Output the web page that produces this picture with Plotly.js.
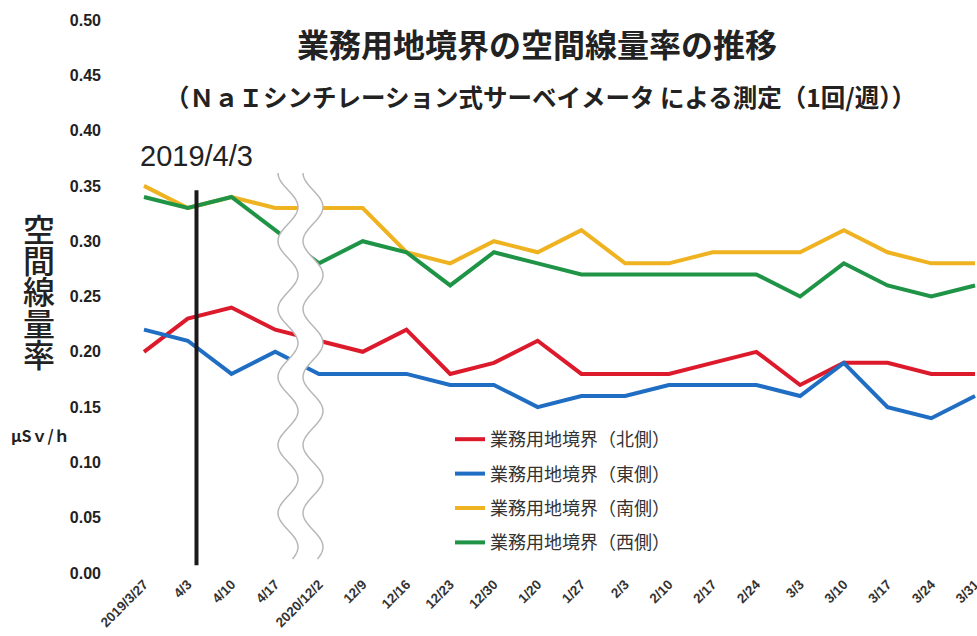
<!DOCTYPE html>
<html>
<head>
<meta charset="utf-8">
<script src="https://cdn.plot.ly/plotly-3.0.1.min.js"></script>
<style>html,body{margin:0;padding:0;background:#fff;}#chart{width:977px;height:636px;}</style>
</head>
<body>
<div id="chart"></div>
<script>
// ---- data ----
const categories = ['2019/3/27','4/3','4/10','4/17','2020/12/2','12/9','12/16','12/23','12/30','1/20','1/27','2/3','2/10','2/17','2/24','3/3','3/10','3/17','3/24','3/31'];
const northValues = [0.20,0.23,0.24,0.22,0.21,0.20,0.22,0.18,0.19,0.21,0.18,0.18,0.18,0.19,0.20,0.17,0.19,0.19,0.18,0.18];
const eastValues  = [0.22,0.21,0.18,0.20,0.18,0.18,0.18,0.17,0.17,0.15,0.16,0.16,0.17,0.17,0.17,0.16,0.19,0.15,0.14,0.16];
const southValues = [0.35,0.33,0.34,0.33,0.33,0.33,0.29,0.28,0.30,0.29,0.31,0.28,0.28,0.29,0.29,0.29,0.31,0.29,0.28,0.28];
const westValues  = [0.34,0.33,0.34,0.31,0.28,0.30,0.29,0.26,0.29,0.28,0.27,0.27,0.27,0.27,0.27,0.25,0.28,0.26,0.25,0.26];
const seriesNames = ['業務用地境界（北側）','業務用地境界（東側）','業務用地境界（南側）','業務用地境界（西側）'];
const seriesColors = ['#dc1a2b','#1f6ec4','#efb322','#1f9447'];
const yTickValues = [0,0.05,0.10,0.15,0.20,0.25,0.30,0.35,0.40,0.45,0.50];
const markerCategory = '4/3';
const markerLabel = '2019/4/3';
const titleText = '業務用地境界の空間線量率の推移';
const subtitleText = '（ＮａＩシンチレーション式サーベイメータ による測定（1回/週））';
const yTitleChars = '空間線量率';
const unitText = 'μSｖ/ｈ';

// ---- layout geometry ----
const W = 977, H = 636;
const M = {l:140, r:0, t:20, b:63};
const PW = W - M.l - M.r, PH = H - M.t - M.b;
const px2paperX = px => (px - M.l) / PW;
const py2paperY = py => 1 - (py - M.t) / PH;

const allSeries = [northValues, eastValues, southValues, westValues];
const traces = allSeries.map((vals, i) => ({
  type: 'scatter', mode: 'lines',
  x: categories, y: vals,
  name: seriesNames[i],
  legendgroup: 'g' + i,
  line: {color: seriesColors[i], width: 4},
  hoverinfo: 'x+y+name'
}));

// wavy break between 4/17 and 2020/12/2
function wavePts(cx, y0, y1, amp, period) {
  const pts = [];
  for (let y = y0; y <= y1; y += 2) {
    pts.push([cx - amp * Math.cos(2 * Math.PI * (y - y0) / period), y]);
  }
  return pts;
}
const leftW = wavePts(288, 173, 560, 10, 68);
const rightW = wavePts(313, 173, 560, 10, 68);
const toPath = pts => pts.map((p, k) => (k ? 'L' : 'M') + px2paperX(p[0]).toFixed(5) + ',' + py2paperY(p[1]).toFixed(5)).join(' ');
const fillPath = toPath(leftW.concat(rightW.slice().reverse())) + ' Z';

const markerX = categories.indexOf(markerCategory) + 0.2;

const shapes = [
  {type:'path', xref:'paper', yref:'paper', path: fillPath, fillcolor:'#ffffff', line:{width:0}, layer:'above'},
  {type:'path', xref:'paper', yref:'paper', path: toPath(leftW), line:{color:'#b8b8b8', width:1.5}, layer:'above'},
  {type:'path', xref:'paper', yref:'paper', path: toPath(rightW), line:{color:'#b8b8b8', width:1.5}, layer:'above'},
  {type:'line', xref:'x', yref:'y', x0: markerX, x1: markerX, y0: 0.007, y1: 0.346, line:{color:'#1a1a1a', width:4}, layer:'above'}
];

const cjk = '"Noto Sans CJK JP", sans-serif';
const annotations = [
  {xref:'paper', yref:'paper', x: px2paperX(540), y: py2paperY(96), text: subtitleText, showarrow:false,
   font:{family: cjk, size: 24.5, color:'#222', weight: 700}, xanchor:'center', yanchor:'middle'},
  {xref:'x', yref:'paper', x: markerX, y: py2paperY(156), text: markerLabel, showarrow:false,
   font:{family:'"Liberation Sans", Arial, sans-serif', size: 29, color:'#222'}, xanchor:'center', yanchor:'middle'},
  {xref:'paper', yref:'paper', x: px2paperX(40), y: py2paperY(435), text: unitText, showarrow:false,
   font:{family: cjk, size: 16, color:'#222', weight: 700}, xanchor:'center', yanchor:'middle'}
];
Array.from(yTitleChars).forEach((ch, k) => {
  annotations.push({xref:'paper', yref:'paper', x: px2paperX(39), y: py2paperY(228 + k * 31.2), text: ch, showarrow:false,
    font:{family: cjk, size: 32, color:'#222', weight: 500}, xanchor:'center', yanchor:'middle'});
});

const layout = {
  width: W, height: H,
  margin: M,
  paper_bgcolor: '#ffffff', plot_bgcolor: '#ffffff',
  showlegend: true,
  title: {text: titleText, x: 537 / W, xref: 'container', xanchor: 'center', y: 1 - 46 / H, yref:'container', yanchor: 'middle',
          font: {family: cjk, size: 32, color: '#222', weight: 700}},
  xaxis: {type: 'category', range: [-0.0915, 19.045], tickangle: -45, showgrid: false, zeroline: false, showline: false,
          ticks: '', tickfont: {family: '"Liberation Sans", Arial, sans-serif', size: 13.5, color: '#333', weight: 700}, fixedrange: true},
  yaxis: {range: [0, 0.5], tickvals: yTickValues, tickformat: '.2f', showgrid: false, zeroline: false, showline: false,
          ticks: '', ticklabelstandoff: 38, tickfont: {family: '"Liberation Sans", Arial, sans-serif', size: 16, color: '#222', weight: 700}, fixedrange: true},
  legend: {x: px2paperX(450), y: py2paperY(421), xanchor: 'left', yanchor: 'top', bgcolor: 'rgba(255,255,255,0)',
           font: {family: cjk, size: 18, color: '#333'}, tracegroupgap: 8, traceorder: 'grouped'},
  shapes: shapes,
  annotations: annotations
};

Plotly.newPlot('chart', traces, layout, {displayModeBar: false, staticPlot: true});
</script>
</body>
</html>
